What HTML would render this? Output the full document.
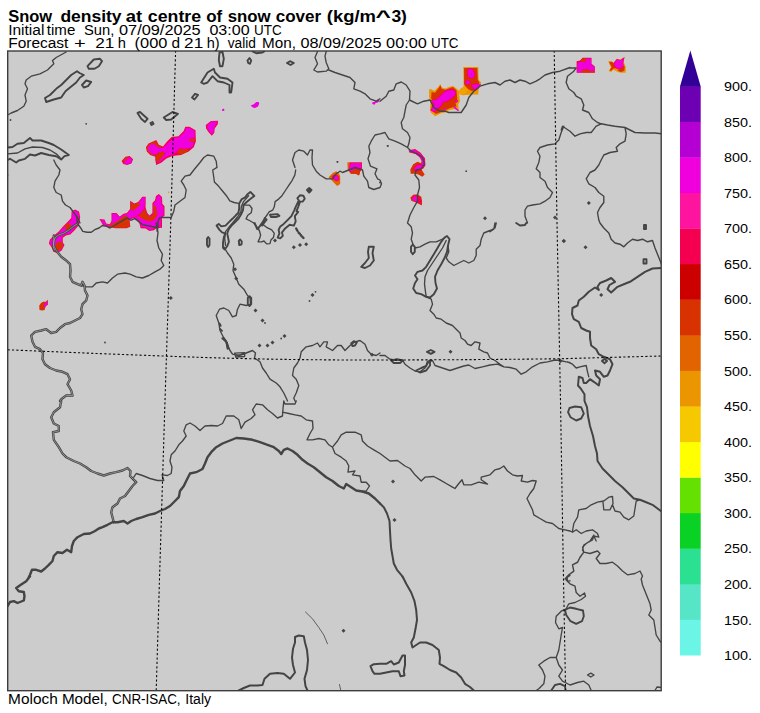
<!DOCTYPE html>
<html><head><meta charset="utf-8"><title>Snow density</title>
<style>html,body{margin:0;padding:0;background:#fff;}body{width:760px;height:713px;overflow:hidden;font-family:"Liberation Sans",sans-serif;}</style></head>
<body>
<svg width="760" height="713" viewBox="0 0 760 713" style="display:block">
<rect width="760" height="713" fill="#fff"/>
<rect x="7.7" y="51" width="653.5" height="639.7" fill="#cccccc"/>
<clipPath id="c"><rect x="7.7" y="51" width="653.5" height="639.7"/></clipPath>
<g clip-path="url(#c)">
<path d="M71.6 211.3 L75.1 209.6 L79.0 211.6 L80.2 216.9 L79.0 224.9 L74.6 230.3 L70.3 234.5 L66.0 235.4 L62.8 237.8 L62.8 242.6 L64.5 245.1 L61.7 250.6 L57.1 253.3 L53.3 251.5 L51.5 247.2 L48.9 243.4 L49.8 239.7 L54.2 235.2 L58.5 231.8 L62.8 226.7 L67.0 222.4 L71.3 218.1Z" fill="#f50050"/>
<path d="M72.2 212.1 L75.1 210.4 L78.1 212.1 L79.3 216.9 L78.1 224.4 L73.9 229.4 L69.6 233.7 L65.3 234.5 L61.9 237.1 L61.9 242.6 L63.6 245.1 L61.0 249.9 L57.1 252.3 L54.0 250.6 L52.3 246.5 L49.9 243.4 L50.6 240.2 L54.9 236.1 L59.2 232.6 L63.4 227.5 L67.7 223.2 L72.0 219.0Z" fill="#f000dc"/>
<path d="M64.8 225.5 L69.1 222.9 L71.6 225.5 L69.9 228.9 L65.7 229.7Z" fill="#d73200"/>
<path d="M56.3 243.4 L59.7 240.9 L63.1 243.4 L62.2 247.7 L58.0 251.1 L54.5 249.4Z" fill="#d73200"/>
<path d="M99.4 219.1 L104.5 219.5 L106.2 223.4 L109.8 224.3 L111.5 220.8 L111.5 213.0 L116.5 213.0 L119.7 216.4 L123.6 213.8 L126.9 213.0 L130.1 208.9 L130.1 200.7 L134.3 203.6 L138.2 201.9 L142.3 196.7 L145.7 196.7 L145.7 204.9 L144.9 209.6 L141.3 214.0 L137.8 216.6 L133.6 218.3 L129.5 219.8 L130.3 226.7 L126.6 228.2 L115.3 228.2 L108.1 226.8 L102.9 225.1Z" fill="#f50050"/>
<path d="M100.4 219.8 L104.1 220.2 L105.9 224.1 L110.1 224.9 L112.2 221.5 L112.2 213.7 L116.1 213.7 L119.5 217.3 L123.8 214.7 L127.2 213.8 L130.8 209.6 L130.8 202.0 L134.1 204.4 L138.4 202.7 L142.6 197.6 L145.0 197.6 L145.0 204.9 L144.2 209.2 L140.8 213.3 L137.3 215.9 L133.2 217.6 L128.8 219.3 L129.5 226.0 L126.4 227.3 L115.3 227.3 L108.4 226.0 L103.5 224.4Z" fill="#f000dc"/>
<path d="M108.4 226.3 L113.6 222.9 L118.7 220.3 L123.8 216.1 L126.4 215.2 L128.9 219.5 L129.8 226.3 L126.4 227.7 L115.3 227.7Z" fill="#d73200"/>
<path d="M130.7 202.4 L134.1 204.1 L138.4 202.4 L140.1 204.9 L135.8 208.4 L132.4 210.9 L130.7 209.2Z" fill="#d73200"/>
<path d="M156.0 195.9 L158.9 194.0 L162.0 196.9 L162.3 203.7 L164.5 206.3 L164.5 215.5 L162.0 218.1 L162.0 227.7 L156.5 228.2 L153.9 230.3 L149.3 231.1 L145.7 228.5 L140.6 228.2 L139.6 223.9 L137.8 220.7 L133.2 217.8 L137.2 215.7 L140.6 213.1 L144.0 208.9 L144.7 205.1 L147.3 213.0 L149.5 215.4 L152.4 213.1 L152.4 202.9 L155.0 200.3Z" fill="#f50050"/>
<path d="M156.7 196.9 L158.9 195.2 L161.1 197.6 L161.3 204.4 L163.5 207.0 L163.5 214.9 L160.9 217.4 L160.9 226.7 L156.1 227.2 L153.6 229.2 L149.6 230.1 L146.4 227.5 L141.3 227.2 L140.6 223.6 L138.9 220.0 L134.6 217.8 L137.8 216.4 L141.3 213.8 L144.7 209.6 L144.9 207.5 L146.6 213.8 L149.5 216.6 L153.2 213.8 L153.4 203.6 L155.8 201.2Z" fill="#f000dc"/>
<path d="M138.4 215.2 L142.6 211.8 L144.7 208.4 L146.9 214.3 L150.3 216.9 L153.8 213.5 L153.2 204.1 L156.3 207.5 L157.2 215.2 L153.8 220.3 L149.5 221.2 L145.2 220.3 L140.9 217.8Z" fill="#d73200"/>
<path d="M145.9 147.3 L148.5 143.4 L153.6 141.3 L156.2 139.9 L158.8 144.7 L163.0 146.4 L167.3 141.3 L171.6 137.0 L178.4 136.2 L183.6 131.1 L185.3 126.8 L189.5 126.8 L195.5 130.2 L195.9 141.3 L193.8 147.3 L188.7 151.6 L181.0 155.0 L172.4 155.9 L166.4 158.4 L161.3 162.7 L156.2 164.9 L155.3 160.1 L155.3 156.7 L150.2 155.0 L146.8 151.6Z" fill="#f50050"/>
<path d="M146.6 147.3 L149.0 143.9 L153.6 142.0 L155.8 141.0 L158.4 145.3 L162.2 147.3 L159.6 149.9 L155.3 155.9 L150.7 154.5 L147.5 151.2Z" fill="#d73200"/>
<path d="M148.0 147.3 L150.2 144.4 L154.5 143.9 L157.9 147.3 L163.0 148.2 L168.2 143.0 L172.4 138.8 L179.3 137.0 L184.4 131.9 L186.1 128.0 L189.5 128.0 L194.7 131.1 L194.7 137.9 L190.4 138.8 L188.7 141.3 L193.8 141.3 L193.0 146.4 L188.7 148.2 L183.6 149.0 L180.1 148.2 L176.7 151.6 L172.4 154.7 L168.2 155.9 L164.7 157.6 L160.5 161.8 L157.0 163.6 L161.3 157.6 L165.6 153.3 L163.0 151.6 L158.8 152.4 L155.3 155.0 L151.1 153.3 L148.5 150.7Z" fill="#f000dc"/>
<path d="M155.8 155.9 L159.6 151.9 L165.1 152.3 L161.7 157.6 L157.9 162.2 L155.8 160.5Z" fill="#d73200"/>
<path d="M176.7 152.4 L180.1 148.5 L183.6 149.4 L189.0 148.5 L187.3 151.6 L181.0 154.7Z" fill="#d73200"/>
<path d="M189.0 139.3 L194.8 138.4 L195.2 141.3 L189.4 141.3Z" fill="#d73200"/>
<path d="M121.6 161.0 L125.4 156.7 L129.7 155.9 L133.1 159.3 L131.4 163.6 L127.1 164.9 L123.3 163.9Z" fill="#f50050"/>
<path d="M122.3 160.8 L125.7 157.2 L129.2 156.5 L127.1 158.8 L124.5 161.8Z" fill="#d73200"/>
<path d="M124.5 161.8 L127.1 158.8 L130.2 157.6 L132.2 159.8 L130.7 163.0 L127.1 164.2 L124.0 163.2Z" fill="#f000dc"/>
<path d="M205.8 125.1 L210.9 121.1 L218.1 120.8 L217.8 124.2 L214.7 128.5 L214.3 132.8 L211.8 135.8 L208.4 131.9 L206.1 128.5Z" fill="#f50050"/>
<path d="M207.2 125.1 L211.3 121.8 L217.4 121.5 L214.3 127.6 L213.7 132.4 L211.8 134.5 L209.2 131.1 L207.5 128.5Z" fill="#f000dc"/>
<path d="M222.2 109.8 L223.6 109.2 L223.9 110.5 L222.6 111.0Z" fill="#f000dc"/>
<path d="M168.0 191.8 L169.2 191.6 L169.4 193.0 L168.2 193.1Z" fill="#eb9600"/>
<path d="M429.1 89.3 L431.6 89.3 L434.2 91.1 L438.5 86.8 L440.2 83.9 L441.9 87.6 L445.3 88.5 L449.6 86.8 L453.0 85.9 L456.4 88.5 L459.0 91.1 L459.9 101.3 L458.2 104.7 L459.0 110.7 L454.7 109.0 L449.6 109.9 L445.3 112.4 L441.1 113.3 L435.1 116.2 L430.8 112.4 L429.9 108.2 L430.8 101.3 L429.1 97.9Z" fill="#eb9600"/>
<path d="M431.6 91.9 L435.1 92.8 L439.0 87.6 L440.4 85.2 L441.9 89.0 L445.8 89.7 L449.9 88.0 L453.0 87.1 L456.4 90.2 L457.3 98.8 L455.6 103.0 L456.4 106.4 L453.0 107.3 L449.6 108.2 L444.8 110.7 L441.1 111.9 L435.9 114.0 L432.5 110.7 L431.6 106.4 L432.5 101.3 L431.1 97.9Z" fill="#d73200"/>
<path d="M431.0 100.1 L436.8 98.8 L439.9 95.5 L443.3 92.1 L447.7 89.3 L453.2 89.3 L456.3 91.7 L455.4 95.8 L451.0 99.4 L447.4 102.0 L444.1 102.0 L441.6 106.1 L437.3 109.7 L434.4 112.4 L430.3 110.6 L432.2 106.4 L434.2 103.9 L431.8 102.5Z" fill="#f50050"/>
<path d="M431.6 100.5 L436.8 99.6 L440.2 96.2 L443.6 92.8 L447.9 90.2 L453.0 90.2 L455.6 91.9 L454.7 95.3 L450.5 98.8 L447.0 101.3 L443.6 101.3 L441.1 105.6 L436.8 109.0 L434.2 111.6 L431.1 110.2 L432.8 106.4 L435.1 103.9 L432.5 102.2Z" fill="#f000dc"/>
<path d="M454.6 101.0 L456.4 99.1 L458.3 101.0 L456.4 102.9Z" fill="#f50050"/>
<path d="M455.1 101.0 L456.4 99.6 L457.8 101.0 L456.4 102.3Z" fill="#f000dc"/>
<path d="M454.4 106.1 L459.4 111.1 L457.3 110.7 L453.5 107.8Z" fill="#f000dc"/>
<path d="M443.3 109.2 L446.4 108.2 L445.0 111.2Z" fill="#f000dc"/>
<path d="M463.3 67.1 L478.3 67.1 L478.7 79.9 L481.3 82.5 L478.7 86.8 L478.3 94.5 L468.4 94.8 L462.4 95.3 L459.0 92.8 L459.9 89.3 L463.6 86.8Z" fill="#eb9600"/>
<path d="M459.0 91.1 L464.1 86.8 L467.6 90.2 L465.0 94.0 L459.9 94.8Z" fill="#f5a000"/>
<path d="M464.1 68.0 L477.3 68.0 L477.8 79.9 L479.5 82.5 L477.8 85.9 L477.0 90.2 L471.8 91.1 L468.4 89.3 L465.9 86.8 L464.1 84.2Z" fill="#d73200"/>
<path d="M466.9 71.4 L468.9 67.8 L473.0 69.0 L475.6 73.9 L474.1 77.9 L470.0 78.9 L467.4 75.8Z" fill="#f50050"/>
<path d="M467.6 71.4 L469.3 68.5 L472.7 69.7 L474.9 73.9 L473.6 77.4 L470.1 78.2 L468.1 75.7Z" fill="#f000dc"/>
<path d="M464.3 81.6 L467.4 79.8 L471.2 81.5 L469.6 84.6 L466.0 84.6Z" fill="#f50050"/>
<path d="M465.0 81.6 L467.6 80.4 L470.5 81.6 L469.3 83.9 L466.4 83.9Z" fill="#f000dc"/>
<path d="M470.8 84.7 L475.3 83.5 L481.1 83.9 L478.2 89.0 L474.2 90.0 L472.2 88.0Z" fill="#f50050"/>
<path d="M471.5 85.1 L475.3 84.2 L480.4 84.2 L477.8 88.5 L474.4 89.3 L472.7 87.6Z" fill="#f000dc"/>
<path d="M328.6 177.2 L332.8 172.9 L336.3 171.2 L338.8 172.9 L340.2 176.3 L340.2 184.0 L337.1 186.1 L334.5 183.2 L331.1 179.7Z" fill="#e16400"/>
<path d="M331.6 176.3 L335.1 173.9 L338.5 176.0 L339.5 180.1 L336.3 181.3 L333.3 179.4Z" fill="#f50050"/>
<path d="M332.7 176.5 L335.1 174.9 L337.6 176.5 L338.5 179.4 L336.3 180.3 L334.0 178.7Z" fill="#f000dc"/>
<path d="M347.4 162.3 L361.9 162.3 L361.9 169.8 L360.2 171.2 L359.0 175.5 L355.9 173.8 L350.8 173.8 L347.7 170.3Z" fill="#e16400"/>
<path d="M349.9 162.6 L361.9 162.6 L361.9 169.8 L360.2 171.2 L359.0 175.1 L355.9 173.4 L351.1 173.4 L348.7 169.8Z" fill="#f50050"/>
<path d="M351.1 163.0 L361.1 163.0 L361.1 169.1 L356.8 167.8 L353.4 170.8 L349.9 171.2 L349.1 167.8Z" fill="#f000dc"/>
<path d="M350.8 171.5 L356.8 168.8 L360.2 171.2 L359.0 175.5 L355.9 173.8 L350.8 173.8Z" fill="#d73200"/>
<path d="M408.6 150.3 L415.1 149.1 L420.6 152.7 L425.0 158.2 L425.4 165.4 L422.8 169.3 L420.2 166.2 L421.6 161.1 L419.6 157.2 L415.4 153.9 L409.3 152.4Z" fill="#f50050"/>
<path d="M409.3 150.8 L414.9 150.0 L420.1 153.4 L424.3 158.5 L424.7 165.0 L422.8 168.1 L421.1 166.1 L422.3 160.9 L420.1 156.6 L415.8 153.2 L409.8 151.9Z" fill="#f000dc"/>
<path d="M410.3 169.5 L413.2 164.3 L417.5 161.8 L421.8 163.5 L420.9 167.8 L422.6 171.2 L424.7 174.6 L422.3 176.7 L418.4 174.6 L414.9 173.8 L410.7 173.8Z" fill="#d73200"/>
<path d="M413.1 168.8 L416.3 164.5 L421.3 164.0 L423.3 166.9 L420.4 170.5 L415.6 171.9Z" fill="#f50050"/>
<path d="M414.1 168.6 L416.8 165.5 L420.8 165.0 L422.3 166.9 L419.9 169.5 L416.0 170.8Z" fill="#f000dc"/>
<path d="M410.3 197.7 L413.2 194.8 L417.5 194.3 L421.3 196.8 L422.1 201.1 L421.8 205.4 L418.4 203.7 L414.9 202.0 L411.5 201.1Z" fill="#d73200"/>
<path d="M411.3 198.0 L414.6 195.3 L417.8 195.8 L420.9 198.2 L421.4 204.7 L418.2 203.0 L414.4 201.6Z" fill="#f50050"/>
<path d="M412.0 198.2 L414.9 196.0 L417.5 196.8 L417.5 201.1 L414.1 201.1Z" fill="#f000dc"/>
<path d="M576.6 61.3 L580.1 60.4 L582.6 57.8 L591.5 57.8 L591.5 63.8 L594.9 66.4 L594.9 72.7 L576.6 72.7Z" fill="#f50050"/>
<path d="M579.7 60.7 L583.0 58.2 L586.1 58.3 L585.4 62.4 L581.8 61.8Z" fill="#d73200"/>
<path d="M577.5 63.0 L581.8 61.6 L585.2 62.4 L586.1 58.7 L591.2 58.7 L591.2 64.7 L594.6 66.9 L594.6 70.3 L590.3 71.0 L587.8 69.3 L583.5 69.3 L580.9 72.4 L577.2 72.4Z" fill="#f000dc"/>
<path d="M581.4 71.0 L584.0 69.6 L587.8 69.6 L590.5 71.3 L594.3 70.7 L594.6 72.5 L581.4 72.5Z" fill="#d73200"/>
<path d="M608.3 61.3 L611.7 61.3 L614.3 63.0 L616.8 58.7 L620.3 59.5 L624.5 57.3 L623.7 62.1 L625.7 66.4 L625.7 72.7 L620.3 72.7 L616.8 71.5 L613.4 69.8 L610.9 72.0 L608.6 71.0 L610.9 67.2 L609.1 63.8Z" fill="#eb9600"/>
<path d="M609.1 61.8 L612.1 62.1 L614.6 63.8 L616.8 68.1 L613.4 68.4 L611.2 70.7 L609.7 70.3 L611.7 66.9 L610.0 63.8Z" fill="#d73200"/>
<path d="M620.3 67.6 L624.7 65.9 L624.4 70.7 L621.1 72.0 L617.7 70.7Z" fill="#d73200"/>
<path d="M614.1 62.1 L616.8 59.0 L620.3 59.9 L624.5 57.1 L623.3 63.0 L623.9 66.6 L621.3 68.8 L618.0 69.6 L615.0 67.8 L613.6 64.7Z" fill="#f50050"/>
<path d="M614.8 62.1 L617.2 59.7 L620.3 60.6 L623.9 58.0 L622.7 63.0 L623.2 66.2 L620.9 67.9 L618.2 68.8 L615.6 67.1 L614.4 64.7Z" fill="#f000dc"/>
<path d="M39.2 305.7 L41.0 303.1 L43.1 301.8 L45.7 301.8 L47.8 299.8 L48.1 304.4 L46.1 306.1 L45.0 308.2 L44.6 310.1 L42.2 310.6 L39.5 310.1Z" fill="#d73200"/>
<path d="M44.0 304.0 L46.1 302.4 L47.5 300.4 L47.8 304.2 L45.7 306.1 L44.4 307.8 L43.8 305.7Z" fill="#f000dc"/>
<path d="M250.7 105.4 L253.7 104.2 L256.3 102.1 L258.8 101.9 L259.2 103.8 L258.0 106.4 L255.0 108.1 L252.8 107.4Z" fill="#f000dc"/>
<path d="M372.1 102.4 L374.8 101.8 L376.5 100.5 L378.2 99.0 L379.5 101.0 L377.8 102.4 L375.7 103.1 L374.4 104.8 L372.4 104.1Z" fill="#f000dc"/>
<path d="M222.0 109.5 L224.0 108.5 L224.5 110.5 L222.5 111.0Z" fill="#f000dc"/>
<path d="M66.2 52.0 L56.2 57.5 L52.5 60.5 L53.8 63.8 L50.0 67.5 L47.5 70.0 L40.0 73.8 L31.2 76.2 L26.2 80.0 L25.0 83.8 L27.5 88.8 L25.0 95.0 L26.2 101.2 L23.8 106.2 L17.5 110.5 L11.2 113.0 L7.5 115.0 M7.5 153.8 L17.5 153.0 L25.0 148.8 L32.5 147.0 L42.5 147.5 L50.0 150.0 L56.2 153.8 L60.0 157.5 M53.8 160.0 L56.2 165.0 L60.0 170.0 L58.8 175.0 L55.0 181.2 L53.8 187.5 L56.2 192.5 L61.2 195.0 L62.5 201.2 L65.5 205.0 L70.0 207.5 L73.8 212.5 L77.5 217.5 L80.0 223.0 M190.0 175.0 L185.0 176.2 L181.2 181.2 L183.8 185.0 L186.2 190.0 L185.0 197.5 L180.0 201.2 L175.0 205.0 L173.8 211.2 L171.2 217.5 L162.5 217.5 M317.5 51.5 L315.0 57.5 L317.5 63.8 L313.8 70.0 L317.5 72.0 L326.2 71.2 L328.8 68.8 L326.2 62.5 L325.0 56.2 L326.2 51.5 M328.8 70.0 L335.0 72.5 L342.5 75.0 L350.0 77.5 L355.0 82.5 L353.8 88.8 L360.0 91.2 L365.0 93.8 L370.0 98.8 L376.2 101.2 L380.0 98.8 M380.0 133.8 L375.0 135.0 L371.2 141.2 L368.8 146.2 L370.0 152.5 L368.0 158.8 L370.5 166.2 L377.0 168.8 L375.0 173.8 L377.5 178.8 L380.0 180.0 L381.5 183.8 L380.0 187.5 M362.5 170.0 L363.8 176.2 L367.5 181.2 L368.8 187.5 L373.8 189.5 L380.0 187.5 M190.0 175.0 L193.8 170.0 L200.0 162.5 L203.8 157.5 L207.5 155.0 L213.8 156.2 L216.2 161.2 L217.0 167.5 M295.0 167.5 L292.5 160.0 L295.0 152.5 L298.8 150.0 L303.8 151.2 L307.5 155.0 L310.0 150.0 L312.5 150.0 L312.0 157.5 L312.5 165.0 L316.2 171.2 L320.0 175.0 L326.2 178.8 L332.5 178.8 L336.2 173.8 L340.0 171.2 L342.5 172.5 L348.8 170.0 L355.0 167.5 L360.0 168.8 L362.5 170.0 M409.5 100.0 L406.2 105.0 L405.0 111.2 L403.8 117.5 L401.2 122.5 L402.5 128.8 L407.5 132.5 L410.0 137.5 L408.8 143.8 L407.5 147.5 M380.0 133.8 L385.0 132.5 L388.8 138.8 L395.0 141.2 L401.2 143.8 L407.5 147.5 L411.2 151.2 L417.5 153.8 L422.5 157.5 L424.5 163.8 L421.2 168.8 L416.2 170.0 L415.0 175.0 L418.8 180.0 L419.5 187.5 L417.5 195.0 L417.5 201.2 L413.8 207.5 L410.0 215.0 L407.5 223.0 M563.8 126.2 L561.2 132.5 L558.8 140.0 L555.0 143.8 L547.5 145.0 L540.0 147.5 L537.5 151.2 L540.0 156.2 L538.8 162.5 L536.2 168.8 L540.0 172.5 L540.0 177.5 L545.0 181.2 L547.5 187.5 L552.5 192.5 L550.0 197.5 L545.0 201.2 L540.0 203.8 L532.5 205.0 L527.5 206.2 L525.0 210.0 L525.0 216.2 L527.5 223.0 M601.2 123.8 L596.2 126.2 L591.2 132.5 L586.2 132.5 L580.0 133.8 L575.0 136.2 L570.0 131.2 L562.5 126.2 L561.2 130.0 M81.2 285.5 L86.2 286.8 L92.5 286.8 L96.2 283.0 L102.5 281.8 L107.5 283.0 L112.5 278.0 L117.5 274.2 L125.0 273.0 L130.0 274.2 L136.2 276.8 L142.5 278.0 L148.8 275.5 L155.0 271.8 L160.0 269.2 L163.8 265.5 L161.2 260.5 L162.5 254.2 L158.8 248.0 L157.0 240.5 L158.0 233.0 L157.0 225.5 L156.2 223.0 M223.8 246.8 L227.5 253.0 L231.2 258.0 L233.8 264.2 L233.0 270.5 L236.2 278.0 L238.8 284.2 L243.8 289.2 L247.5 295.5 L250.0 298.0 L250.5 304.2 L246.2 305.5 L240.0 304.2 L237.5 309.2 L236.2 315.5 L232.5 316.8 L228.8 310.5 L223.8 308.0 L219.5 309.2 L216.2 315.5 L218.8 323.0 L220.0 330.5 L223.8 338.0 L227.5 344.2 L230.0 350.5 L232.5 354.2 L238.8 355.5 L246.2 353.0 L252.5 350.5 L255.5 353.0 L254.5 358.0 L260.0 361.8 L262.5 368.0 L266.2 373.0 L270.0 379.2 L276.2 383.0 L280.0 386.8 L283.8 393.0 L286.2 398.0 L287.5 401.0 M300.0 358.0 L301.2 351.8 L306.2 346.8 L312.5 345.5 L317.5 343.0 L320.0 346.8 L323.8 341.8 L327.5 341.8 L326.2 346.8 L332.5 350.5 L337.5 345.5 L341.2 345.5 L345.0 350.5 L350.0 345.5 L355.0 341.8 L360.0 340.5 L365.0 344.2 L367.5 350.5 L371.2 354.2 L376.2 355.5 L380.0 353.0 M300.0 358.0 L297.5 363.0 L293.8 368.0 L292.5 375.5 L296.2 379.2 L298.8 385.5 L296.2 393.0 L293.8 398.0 L295.0 401.0 M446.2 240.5 L442.5 248.0 L437.5 255.5 L432.5 263.0 L427.5 270.5 L425.0 276.8 L424.5 284.2 L425.5 291.8 L426.2 296.8 M407.5 223.0 L411.2 226.8 L412.5 233.0 L411.2 239.2 L413.0 244.2 M415.0 248.0 L420.0 246.8 L425.0 244.2 L430.0 241.8 L436.2 241.8 L442.5 239.2 L445.5 237.5 M448.0 245.5 L448.8 251.8 L446.2 258.0 L448.8 261.8 L453.8 265.5 L458.8 263.0 L463.8 260.5 L468.8 263.0 L473.8 260.5 L476.2 255.5 L476.2 249.2 L480.0 245.5 L481.2 239.2 L483.8 233.0 L490.0 230.5 L495.0 228.0 L496.2 223.0 M426.2 296.8 L431.2 299.2 L432.5 304.2 L430.0 310.5 L433.8 314.2 L436.2 318.0 L441.2 319.2 L446.2 323.0 L452.5 325.5 L456.2 329.2 L460.0 333.0 L461.2 338.0 L465.0 340.5 L467.5 344.2 L471.2 345.5 L475.0 341.8 L480.0 343.0 L478.8 349.2 L483.8 351.8 L487.5 353.0 L490.0 358.0 L495.0 360.5 L500.0 364.2 L503.8 366.8 M380.0 355.5 L385.0 355.5 L390.0 359.2 L395.0 360.0 L402.5 360.0 L405.0 364.2 L410.0 368.0 L415.0 371.0 L420.0 371.8 L425.0 368.0 L428.8 361.8 L432.5 360.5 L435.0 365.5 L442.5 368.0 L450.0 370.5 L457.5 368.0 L463.8 366.0 L468.8 365.0 L475.0 368.5 L482.5 366.8 L490.0 365.0 L497.5 364.2 L503.8 366.8 L510.0 367.5 L516.2 369.2 L521.2 374.2 L526.2 371.8 L532.5 366.8 L540.0 363.0 L547.5 361.8 L555.0 360.0 L560.0 360.5 L566.2 361.8 L570.0 362.5 M567.5 361.8 L572.5 364.2 L576.2 368.0 L580.0 366.8 L586.2 365.5 L587.5 371.8 L588.8 376.8 M490.0 231.8 L493.8 229.2 L495.0 223.0 M133.8 477.2 L136.2 473.5 L142.5 475.5 L150.0 478.5 L157.5 480.5 L163.8 480.5 L162.0 474.8 L167.5 475.5 L171.2 473.5 L172.0 467.2 L170.0 461.0 L171.2 454.8 L175.0 451.0 L178.8 444.8 L182.5 441.0 L186.2 436.0 L183.8 431.0 L186.2 424.8 L190.0 423.0 M190.0 423.0 L195.0 426.0 L200.0 430.5 L205.0 426.0 L211.2 425.5 L217.5 426.0 L222.5 423.5 L226.2 416.0 L233.8 416.0 L238.8 419.8 L241.2 428.5 L245.0 422.2 L251.2 418.5 L255.0 414.8 L252.5 409.8 L256.2 404.0 L262.5 404.8 L267.5 409.8 L272.5 413.5 L277.5 418.0 L282.5 416.0 L283.0 408.5 L283.8 401.0 M283.8 401.0 L285.0 404.0 L295.0 404.0 L296.2 401.0 M282.5 412.2 L288.8 413.5 L295.0 414.8 L301.2 416.0 L306.2 419.8 L312.5 421.0 L313.0 428.5 L310.0 433.5 L307.0 439.8 L312.5 439.8 L318.8 438.5 L325.0 439.8 L328.8 444.8 L332.5 447.2 M332.5 447.2 L337.5 441.0 L341.2 434.8 L346.2 432.2 L355.0 432.2 L361.2 434.8 L362.5 441.0 L367.5 446.0 L373.8 449.8 L380.0 453.5 M332.5 447.2 L335.0 453.5 L341.2 457.2 L346.2 461.0 L348.8 466.0 L348.0 472.2 L355.0 471.0 L352.5 474.8 L360.0 476.0 L361.2 482.2 L366.2 482.2 L369.5 486.0 L366.2 491.0 L362.5 491.5 M380.0 453.5 L385.0 457.2 L390.0 461.0 L397.5 460.5 L405.0 466.0 L410.0 468.5 L415.0 474.8 L421.2 481.0 L425.0 477.2 L433.8 476.5 L440.0 479.8 L446.2 483.5 L452.5 487.2 L455.0 488.5 L458.8 483.5 L462.0 479.8 L463.8 484.8 L471.2 484.8 L478.8 482.2 L487.5 484.0 L481.2 479.8 L481.2 477.2 L490.0 474.8 L495.0 469.8 L500.0 468.5 L503.8 466.0 L507.5 471.0 L512.5 474.8 L517.5 476.0 L522.5 475.5 L521.2 481.0 L527.5 482.2 L532.5 480.5 L536.2 481.0 L533.8 488.5 L530.0 493.5 L527.0 498.5 L530.0 504.8 L532.5 509.8 L533.8 514.8 L540.0 518.5 L546.2 522.2 L552.5 523.5 L558.8 528.5 L565.0 529.8 L570.0 531.0 M570.0 531.0 L572.5 532.2 L576.2 529.8 L581.2 533.5 L586.2 531.0 L592.5 529.8 L597.5 533.5 L598.8 537.2 L593.8 536.0 L592.5 539.8 L586.2 543.5 L582.5 547.2 L583.8 552.2 L590.0 553.5 L597.5 551.0 L600.0 553.5 L596.2 558.5 L600.0 563.5 L606.2 563.5 L612.5 562.2 L617.5 566.0 L622.5 571.0 L627.5 574.8 L635.0 573.5 L640.0 571.0 L642.5 576.0 L641.2 579.0 M572.5 531.0 L573.8 523.5 L577.5 517.2 L578.8 509.8 L586.2 508.5 L591.2 504.8 L597.5 502.2 L603.8 501.0 L608.8 497.2 L612.5 496.5 L613.0 503.5 L610.0 509.8 L603.8 509.8 L603.0 502.2 M612.5 504.8 L615.0 511.0 L620.0 512.2 L623.8 517.2 L628.8 519.8 L633.8 516.0 L635.0 508.5 L636.2 501.0 L640.0 499.8 M583.8 552.2 L580.0 557.2 L577.5 562.2 L572.5 564.8 L573.8 571.0 L568.8 574.8 L565.0 579.0 M593.8 536.0 L596.2 541.0 M570.0 575.5 L567.0 577.5 L567.5 581.2 L570.0 580.8 M593.8 535.0 L590.0 541.2 L583.8 545.0 L582.5 550.0 L583.8 552.2 L580.0 557.5 L577.5 562.5 L572.5 565.0 L573.8 571.2 L568.8 575.0 L566.2 580.0 L570.0 583.8 L575.0 586.2 L576.2 592.5 L580.0 596.2 L584.5 593.0 L585.5 596.2 L581.2 599.5 L575.0 602.5 L568.8 603.8 L566.2 608.8 L561.2 611.2 L556.2 616.2 L555.5 622.5 L558.8 628.8 L562.5 627.5 L561.2 635.0 L560.0 642.5 L558.8 650.0 L556.2 657.5 L550.0 657.5 L543.8 661.2 L538.8 665.0 L542.5 670.0 L545.0 676.2 L543.8 683.8 L538.8 688.8 L536.2 690.5 M556.2 657.5 L558.8 665.0 L562.5 670.0 L558.8 676.2 L562.5 681.2 L570.0 685.0 L577.5 682.5 L583.8 681.2 L588.8 685.0 L591.2 690.5 M641.2 579.0 L642.5 585.0 L645.0 591.2 L647.5 597.5 L650.0 603.8 L651.2 610.0 L648.8 615.0 L653.8 620.0 L655.0 627.5 L656.2 635.0 L660.0 641.2 L661.5 642.5 M587.5 675.0 L590.8 673.2 L594.0 675.0 L590.8 677.0Z M655.0 690.5 L657.0 687.0 L661.5 687.5 M248.6 195.7 L243.5 201.6 L241.3 206.8 L240.9 211.9 L237.5 217.0 L233.2 222.2 L228.9 227.3 L225.5 231.6 L224.7 238.4 L225.5 245.3 M217.0 167.4 L212.7 170.0 L213.6 176.0 L214.4 182.0 L218.7 186.3 L222.1 190.5 L226.4 195.7 L229.8 200.8 L234.1 202.5 L238.4 203.4 M243.5 205.1 L249.5 205.1 L252.0 208.5 L251.2 212.8 L247.8 215.3 L246.1 218.8 L249.5 220.5 L253.8 223.0 L256.3 226.4 L258.9 229.0 M295.7 170.0 L294.8 175.1 L292.2 180.3 L288.8 185.4 L285.4 190.5 L282.0 195.7 L278.6 199.1 L275.1 201.6 L274.3 206.8 L272.6 210.2 L269.1 211.9 L267.4 214.5 L264.9 217.9 M263.2 224.7 L266.6 227.3 L271.7 229.9 L274.3 233.3 L273.4 237.6 L270.9 240.1 L270.0 243.6 L266.6 243.9 L264.0 241.0 L261.4 241.8 L258.0 241.8 L259.7 238.4 L260.6 235.0 L259.4 230.7 L258.0 229.0 M158.0 226.3 L157.2 231.4 L156.3 222.9 M234.7 353.1 L244.9 352.7 L244.6 356.5 L235.7 357.0Z" fill="none" stroke="#444444" stroke-width="1.35" stroke-linejoin="round" stroke-linecap="round"/>
<path d="M305.5 612.0 L312.5 618.8 L318.8 627.5 L323.8 635.0 L327.5 643.8 M339.5 684.5 L340.8 690.5 M236.1 355.0 L244.3 354.6" fill="none" stroke="#444444" stroke-width="0.80" stroke-linejoin="round" stroke-linecap="round"/>
<path d="M380.0 101.2 L386.2 96.2 L388.8 91.2 L393.8 90.0 L396.2 83.8 L401.2 82.0 L406.2 85.0 L410.0 91.2 L409.5 100.0 L417.5 103.8 L423.8 101.2 L430.0 100.0 L433.8 107.5 L440.0 111.2 L445.0 111.2 L448.8 112.5 L455.0 112.5 L461.2 112.5 L466.2 105.0 L468.8 97.5 L473.8 91.2 L480.0 86.2 L487.5 83.8 L495.0 82.5 L500.0 85.0 L505.0 81.2 L510.0 80.0 L515.0 82.5 L520.0 80.0 L525.0 81.2 L530.0 83.8 L536.2 81.2 L540.0 78.8 L545.0 75.0 L552.5 72.5 L560.0 71.2 L570.0 67.5 M570.0 68.0 L576.2 68.0 L573.8 71.2 L567.5 76.2 L566.2 82.5 L568.8 88.8 L573.8 92.5 L576.2 96.2 L581.2 98.8 L583.8 105.0 L582.5 110.0 L588.8 112.5 L592.5 118.8 L597.5 122.5 L601.2 123.8 L607.5 125.0 L615.0 126.2 L625.0 127.5 L630.0 130.0 L635.0 132.5 L645.0 133.0 L655.0 133.0 L661.5 133.8 M625.0 127.5 L626.2 133.8 L625.0 141.2 L620.0 143.8 L616.2 147.5 L617.5 151.2 L610.0 152.5 L603.8 155.0 L601.2 160.0 L598.8 165.0 L595.0 170.0 L590.0 172.5 L586.2 178.8 L588.8 183.8 L595.0 187.5 L598.8 192.5 L603.8 196.2 L603.8 202.5 L600.0 207.5 L597.5 212.5 L598.8 220.0 L600.0 223.0 M600.0 223.0 L603.8 228.0 L608.8 233.0 L611.2 239.2 L615.0 243.0 L620.0 244.2 L623.8 246.8 L627.5 243.0 L632.5 239.2 L637.5 240.5 L642.5 239.2 L647.5 241.8 L652.5 240.5 L655.0 248.0 L657.5 254.2 L660.0 260.5 L661.5 264.2 M76.8 217.8 L77.6 223.8 L80.2 227.2 L82.8 231.4 L87.0 232.3 L91.3 232.3 L94.7 229.7 L99.0 228.0 L102.4 225.5 L106.7 226.3 L110.1 228.0 L114.4 225.5 L118.7 222.9 L123.0 220.3 L127.2 217.8 L130.7 220.3 L134.9 218.6 L139.2 222.0 L142.6 224.6 L146.9 225.5 L151.2 226.3 L154.6 227.2 L158.0 226.3 L158.0 221.2 L159.7 217.8 L162.5 217.4" fill="none" stroke="#444444" stroke-width="1.40" stroke-linejoin="round" stroke-linecap="round"/>
<path d="M53.8 235.5 L53.8 245.5 L56.2 250.5 L61.2 256.8 L66.2 260.5 L70.0 264.2 L70.5 270.5 L70.0 276.8 L72.5 281.8 L77.5 284.2 L81.2 285.5 L82.5 281.8 L84.5 285.5 L85.0 290.5 L87.5 295.5 L86.2 300.5 L82.5 304.2 L81.2 309.2 L82.5 314.2 L80.0 318.0 L75.0 320.5 L70.0 323.0 L65.0 324.2 L60.0 328.0 L56.2 331.8 L51.2 333.0 L46.2 329.2 L41.2 330.5 L35.0 331.8 L31.2 335.5 L32.5 341.8 L35.0 346.8 L40.0 349.2 L43.0 353.0 L42.5 359.2 L45.0 364.2 L50.0 368.0 L56.2 370.5 L62.5 371.8 L67.5 374.2 L70.0 379.2 L67.5 384.2 L71.2 390.5 L72.5 395.5 L66.2 395.5 L61.2 399.2 L60.0 401.0 M61.2 401.0 L60.0 407.2 L53.8 412.2 L51.2 417.2 L53.8 423.5 L58.8 426.0 L58.8 431.0 L53.0 432.2 L53.8 439.8 L58.8 447.2 L62.5 453.5 L66.2 457.2 L73.8 461.0 L80.0 463.5 L86.2 467.2 L91.2 471.0 L97.5 473.5 L103.8 475.5 L110.0 473.5 L116.2 472.2 L122.5 470.5 L127.5 468.0 L130.5 471.0 L130.0 476.0 L133.8 479.8 L136.2 482.2 L132.5 486.0 L128.8 491.0 L125.0 496.0 L120.0 498.5 L117.5 503.5 L112.5 507.2 L111.2 512.2 L112.5 517.2 L113.8 522.2 M77.6 223.8 L73.4 226.3 L69.1 229.7 L63.9 233.2 L58.8 234.9 L55.4 237.4 L53.7 241.7 L53.3 246.8 L54.5 250.3" fill="none" stroke="#444444" stroke-width="2.40" stroke-linejoin="round" stroke-linecap="round"/>
<path d="M53.8 235.5 L53.8 245.5 L56.2 250.5 L61.2 256.8 L66.2 260.5 L70.0 264.2 L70.5 270.5 L70.0 276.8 L72.5 281.8 L77.5 284.2 L81.2 285.5 L82.5 281.8 L84.5 285.5 L85.0 290.5 L87.5 295.5 L86.2 300.5 L82.5 304.2 L81.2 309.2 L82.5 314.2 L80.0 318.0 L75.0 320.5 L70.0 323.0 L65.0 324.2 L60.0 328.0 L56.2 331.8 L51.2 333.0 L46.2 329.2 L41.2 330.5 L35.0 331.8 L31.2 335.5 L32.5 341.8 L35.0 346.8 L40.0 349.2 L43.0 353.0 L42.5 359.2 L45.0 364.2 L50.0 368.0 L56.2 370.5 L62.5 371.8 L67.5 374.2 L70.0 379.2 L67.5 384.2 L71.2 390.5 L72.5 395.5 L66.2 395.5 L61.2 399.2 L60.0 401.0 M61.2 401.0 L60.0 407.2 L53.8 412.2 L51.2 417.2 L53.8 423.5 L58.8 426.0 L58.8 431.0 L53.0 432.2 L53.8 439.8 L58.8 447.2 L62.5 453.5 L66.2 457.2 L73.8 461.0 L80.0 463.5 L86.2 467.2 L91.2 471.0 L97.5 473.5 L103.8 475.5 L110.0 473.5 L116.2 472.2 L122.5 470.5 L127.5 468.0 L130.5 471.0 L130.0 476.0 L133.8 479.8 L136.2 482.2 L132.5 486.0 L128.8 491.0 L125.0 496.0 L120.0 498.5 L117.5 503.5 L112.5 507.2 L111.2 512.2 L112.5 517.2 L113.8 522.2 M77.6 223.8 L73.4 226.3 L69.1 229.7 L63.9 233.2 L58.8 234.9 L55.4 237.4 L53.7 241.7 L53.3 246.8 L54.5 250.3" fill="none" stroke="#bdbdbd" stroke-width="0.6" stroke-linejoin="round"/>
<path d="M45.0 98.0 L50.0 95.0 L56.2 88.8 L61.2 85.0 L66.2 80.0 L71.2 75.0 L77.0 71.2 L79.5 73.0 L83.8 75.0 L80.0 77.5 L76.2 82.5 L70.0 87.5 L65.5 91.2 L61.2 97.5 L53.8 99.5 L46.2 102.0Z M87.5 66.2 L93.8 59.5 L100.0 58.8 L102.0 61.2 L98.8 66.2 L94.5 68.8 L88.8 68.8Z M82.0 85.0 L86.2 80.5 L91.2 82.0 L88.0 86.2 L83.8 87.5Z M137.5 113.0 L140.0 112.0 L147.5 118.8 L145.0 122.0 L141.2 118.8Z M150.5 123.0 L152.5 122.0 L153.5 124.0 L151.5 125.0Z M163.8 117.5 L172.5 112.0 L178.0 113.8 L171.2 119.5 L166.2 120.0Z M7.5 147.5 L12.5 147.0 L17.5 143.8 L23.8 143.0 L30.0 138.0 L32.5 140.5 L41.2 140.5 L48.8 143.0 L53.8 145.0 L61.2 149.5 L68.8 155.0 L64.5 156.2 L61.2 159.5 L56.2 156.2 L48.8 155.0 L41.2 153.0 L35.0 155.5 L30.0 154.5 L25.0 158.8 L18.8 160.5 L16.2 162.5 L10.0 158.8 L7.5 160.0 M201.2 82.5 L207.5 72.5 L213.8 68.8 L215.0 72.5 L220.0 77.5 L227.5 78.8 L232.5 82.5 L231.2 92.5 L229.5 92.5 L229.5 85.0 L223.8 82.5 L217.5 81.2 L212.5 76.2 L207.5 82.5 L203.8 83.8Z M219.5 52.5 L222.5 52.0 L223.8 58.8 L222.5 66.2 L220.0 66.2 L218.8 60.0Z M247.5 60.5 L249.5 58.0 L251.2 60.5 L250.0 63.8 L248.2 63.0Z M287.0 63.0 L290.0 61.2 L293.8 63.0 L290.5 65.0Z M252.5 51.5 L256.2 53.2 L262.5 52.5 L264.2 51.5 M192.0 97.5 L195.0 93.8 L198.0 95.0 L194.5 99.5Z M307.0 190.0 L309.2 188.0 L311.5 190.0 L309.2 192.5Z M207.0 238.5 L208.2 237.0 L209.5 238.5 L209.5 245.0 L208.2 247.0 L207.0 245.0Z M238.8 241.0 L240.2 239.5 L241.8 241.5 L241.5 244.5 L239.2 245.0Z M247.8 298.0 L249.5 296.2 L251.2 298.0 L251.2 304.2 L249.5 306.0 L247.8 304.2Z M368.8 246.8 L373.8 246.8 L372.5 253.0 L373.8 260.5 L370.0 265.5 L365.0 268.0 L361.2 266.8 L365.0 263.0 L368.8 258.0 L368.0 251.8Z M223.8 338.0 L226.2 341.8 L228.0 348.0 M351.2 343.5 L353.8 341.2 L356.8 342.5 L355.0 345.5 L352.5 346.0Z M447.0 236.0 L449.5 239.2 L448.0 245.5 L447.0 251.8 L444.5 258.0 L441.2 264.2 L437.5 270.5 L435.0 276.8 L435.5 283.0 L437.0 288.5 L433.8 294.2 L430.0 297.5 L426.2 296.8 L421.2 294.2 L416.2 293.0 L413.2 288.5 L415.0 283.0 L417.5 279.2 L415.0 275.5 L417.5 271.8 L422.5 270.5 L426.2 266.8 L430.0 260.5 L433.8 254.2 L437.5 248.0 L441.2 241.8 L444.5 237.5Z M411.0 246.8 L412.8 244.5 L414.8 246.8 L414.8 251.8 L412.8 254.2 L411.0 251.8Z M427.0 351.8 L430.8 350.0 L434.5 351.8 L430.8 353.8Z M391.2 360.5 L397.0 359.2 L403.0 360.5 L400.0 363.0 L393.8 363.0Z M416.2 370.5 L421.2 368.0 L426.2 366.0 L427.5 361.8 L430.0 360.5 L430.0 365.5 L426.2 370.5 L420.0 372.5Z M516.2 223.0 L520.0 225.5 L525.0 225.0 L526.2 223.0 M602.0 361.0 L604.5 358.8 L607.0 361.0 L604.5 363.2Z M644.0 225.0 L646.0 225.0 L646.0 229.0 L644.0 229.0Z M643.5 259.2 L646.5 259.2 L646.5 263.5 L643.5 263.5Z M569.5 408.0 L575.0 406.5 L581.2 407.2 L583.8 413.5 L581.2 418.5 L576.2 420.5 L570.5 417.2 L568.0 412.2Z M565.0 610.0 L570.0 607.5 L576.2 608.8 L583.0 610.5 L583.8 616.2 L582.0 621.2 L576.2 623.8 L570.5 621.2 L566.2 615.0Z M551.2 690.5 L555.0 685.0 L560.0 683.8 L565.0 686.2 L565.5 690.5 M250.3 191.9 L254.3 196.0 L250.3 199.1 L246.1 202.5 L243.5 205.1 L243.0 210.2 L240.9 214.8 L238.4 218.8 L234.9 222.2 L231.5 225.6 L228.9 229.0 L227.2 233.3 L228.1 237.6 L228.9 241.8 L227.2 246.1 L224.7 249.5 L223.0 247.8 L223.0 242.7 L223.8 237.6 L225.2 233.3 L222.1 232.4 L219.5 229.9 L216.6 225.6 L218.7 223.9 L221.3 226.4 L225.5 225.6 L228.9 222.2 L232.4 218.8 L235.8 215.3 L238.4 212.8 L239.2 208.5 L239.2 203.4 L241.8 199.1 L245.2 197.4 L247.8 193.9Z M254.6 223.0 L257.2 229.0 L259.7 226.4 L263.2 221.3 L264.9 217.9 L266.6 219.6 L264.0 223.0 L262.3 225.6 M270.0 214.8 L277.7 214.1 L279.4 215.8 L276.0 217.0 L270.9 217.0Z M297.4 198.2 L299.9 195.3 L303.4 195.7 L304.7 198.7 L302.8 201.6 L299.4 201.6Z M298.2 201.6 L295.7 206.8 L293.9 211.1 L291.4 216.2 L288.0 219.6 L283.7 223.9 L280.3 226.4 L278.6 229.9 L279.4 233.3 L277.7 237.6 L280.3 238.4 L282.8 235.9 L282.0 232.4 L285.4 228.2 L289.7 224.7 L293.9 225.6 L295.7 221.3 L294.8 216.2 L298.2 211.9 L296.5 211.1 L298.2 206.8 L299.9 202.2Z M219.5 323.5 L220.7 325.7 M220.3 329.1 L222.0 330.8" fill="none" stroke="#444444" stroke-width="1.90" stroke-linejoin="round" stroke-linecap="round"/>
<path d="M661.5 268.0 L652.5 268.5 L645.0 271.8 L637.5 276.8 L630.0 281.8 L623.8 284.2 L617.5 286.8 L611.2 292.5 L607.5 289.2 L609.5 285.0 L615.0 281.8 L611.2 278.0 L606.2 280.5 L600.0 283.0 L597.5 286.8 L598.8 290.0 L595.0 287.5 L588.8 291.8 L583.8 296.8 L578.8 300.5 L577.5 305.5 L572.5 308.0 L572.0 314.2 L573.8 319.2 L578.8 321.8 L581.2 328.0 L586.2 330.5 L590.0 331.8 L590.0 338.0 L591.2 345.5 L596.2 349.2 L598.8 354.2 L603.8 356.8 L610.0 359.2 L612.5 364.2 L610.0 370.5 L607.5 375.5 L603.8 376.8 L600.0 371.8 L595.0 370.5 L596.2 375.5 L600.0 379.2 L598.8 385.5 L593.8 381.8 L590.0 379.2 L586.2 383.0 L583.8 383.0 L582.5 378.0 L578.8 376.8 L578.0 385.5 L581.2 389.2 L584.5 394.2 L584.5 401.0 M380.0 503.5 L383.8 507.2 L387.0 513.5 L389.5 521.0 L390.0 531.0 L390.5 539.8 L391.2 548.5 L392.5 556.0 L393.8 563.5 L397.0 569.8 L401.2 574.8 L403.8 579.0 M584.5 401.0 L587.0 407.2 L588.0 416.0 L590.0 426.0 L593.0 436.0 L595.0 446.0 L597.0 453.5 L597.5 461.0 L602.5 468.5 L608.8 474.8 L615.0 481.0 L622.5 487.2 L628.8 493.5 L633.8 498.5 L640.0 499.8 L646.2 502.2 L652.5 504.8 L657.5 508.5 L661.5 511.5 M238.8 690.5 L243.8 688.0 L250.0 685.5 L257.5 685.5 L262.5 685.0 L264.5 678.8 L270.0 673.8 L277.5 673.0 L283.8 673.8 L290.0 678.8 L295.0 672.5 L293.0 665.0 L292.0 657.5 L293.0 648.8 L295.0 642.5 L295.0 637.0 L298.8 635.5 L303.8 636.2 L305.0 642.5 L307.0 650.0 L308.0 660.0 L307.0 670.0 L304.5 678.8 L305.5 686.2 L307.5 690.5 M402.5 576.2 L406.2 583.8 L411.2 592.5 L414.5 601.2 L416.2 610.0 L417.0 620.0 L415.5 628.8 L413.8 637.5 L411.2 642.5 L412.5 647.5 L416.2 645.0 L420.0 642.5 L426.2 642.5 L432.5 645.0 L438.8 650.0 L440.0 657.5 L439.5 663.8 L443.8 666.2 L450.0 670.0 L456.2 672.5 L461.2 677.5 L465.0 683.8 L470.0 687.0 L473.8 690.5 M380.0 663.8 L386.2 663.8 L391.2 661.2 L393.8 664.5 L398.8 662.5 L402.5 655.5 L405.0 655.5 L405.0 665.0 L403.8 671.2 L404.5 675.5 L400.5 676.2 L398.8 671.2 L392.5 671.2 L386.2 672.5 L380.0 673.8 M380.0 663.8 L373.8 664.2 L370.5 666.2 L372.5 671.2 L374.5 673.8 L380.0 673.8" fill="none" stroke="#444444" stroke-width="2.00" stroke-linejoin="round" stroke-linecap="round"/>
<path d="M190.0 473.5 L186.2 481.0 L183.8 486.0 L180.0 491.0 L178.8 497.2 L175.0 501.0 L170.0 506.0 L165.0 509.0 L160.0 511.0 L155.0 513.5 L148.8 514.8 L142.5 517.2 L136.2 519.0 L131.2 521.0 L127.5 523.5 L123.8 521.0 L117.5 522.2 L112.5 522.2 L107.5 524.8 L102.5 527.2 L98.8 528.5 L95.0 531.0 L90.0 533.5 L83.8 534.0 L77.5 537.2 L73.8 541.0 L72.0 546.0 L71.2 552.2 L67.0 549.8 L62.5 553.0 L57.5 552.2 L53.8 556.0 L52.5 561.0 L48.8 564.8 L45.0 568.5 L41.2 571.5 L36.2 569.8 L32.0 569.8 L30.0 574.8 L28.0 579.0 M190.0 473.5 L196.2 472.2 L202.5 469.0 L205.0 463.5 L207.5 457.2 L211.2 452.2 L216.2 447.2 L222.5 443.5 L230.0 440.5 L236.2 438.0 L243.8 438.5 L252.5 439.8 L260.0 442.2 L267.5 444.8 L273.8 447.2 L278.8 451.0 L281.2 454.0 L283.8 449.8 L287.5 448.5 L292.5 451.0 L297.5 454.8 L302.5 459.8 L307.5 463.5 L313.8 467.2 L320.0 472.2 L326.2 477.2 L332.5 481.0 L338.8 486.0 L343.8 488.5 L346.2 484.0 L351.2 487.2 L356.2 490.5 L362.5 491.5 L368.8 493.5 L375.0 498.5 L380.0 503.5 M30.0 576.2 L26.2 581.2 L21.2 584.5 L16.2 588.0 L18.8 591.2 L23.8 592.0 L24.5 596.2 L23.8 600.5 L17.5 603.0 L13.8 601.2 L10.0 602.0 L7.5 606.2 M296.2 228.5 L297.4 230.7 M298.6 232.6 L299.6 233.6 M300.8 235.0 L301.5 235.9 M302.7 237.2 L303.4 237.9 M222.7 338.4 L225.8 341.1 M226.8 342.8 L227.8 348.6" fill="none" stroke="#444444" stroke-width="2.40" stroke-linejoin="round" stroke-linecap="round"/>
<circle cx="10.5" cy="120.0" r="0.9" fill="#444444"/>
<circle cx="86.2" cy="123.8" r="0.9" fill="#444444"/>
<circle cx="7.5" cy="175.0" r="0.9" fill="#444444"/>
<circle cx="337.5" cy="161.8" r="0.9" fill="#444444"/>
<circle cx="387.5" cy="145.8" r="0.9" fill="#444444"/>
<circle cx="466.2" cy="171.2" r="0.9" fill="#444444"/>
<path d="M483.0 218.2L485.0 216.2L487.0 218.2L485.0 220.2Z" fill="#444444"/>
<circle cx="380.0" cy="182.5" r="0.9" fill="#444444"/>
<path d="M553.0 217.5L555.0 215.5L557.0 217.5L555.0 219.5Z" fill="#444444"/>
<path d="M586.8 203.0L588.8 201.0L590.8 203.0L588.8 205.0Z" fill="#444444"/>
<path d="M168.8 298.0L170.8 296.0L172.8 298.0L170.8 300.0Z" fill="#444444"/>
<circle cx="105.0" cy="342.5" r="0.9" fill="#444444"/>
<path d="M273.0 240.5L275.0 238.5L277.0 240.5L275.0 242.5Z" fill="#444444"/>
<path d="M291.8 247.2L293.8 245.2L295.8 247.2L293.8 249.2Z" fill="#444444"/>
<path d="M298.0 245.0L300.0 243.0L302.0 245.0L300.0 247.0Z" fill="#444444"/>
<path d="M304.2 244.2L306.2 242.2L308.2 244.2L306.2 246.2Z" fill="#444444"/>
<path d="M233.0 269.2L235.0 267.2L237.0 269.2L235.0 271.2Z" fill="#444444"/>
<path d="M234.2 278.5L236.2 276.5L238.2 278.5L236.2 280.5Z" fill="#444444"/>
<path d="M253.5 310.5L255.5 308.5L257.5 310.5L255.5 312.5Z" fill="#444444"/>
<path d="M260.5 320.5L262.5 318.5L264.5 320.5L262.5 322.5Z" fill="#444444"/>
<path d="M257.5 345.5L259.5 343.5L261.5 345.5L259.5 347.5Z" fill="#444444"/>
<path d="M265.5 345.5L267.5 343.5L269.5 345.5L267.5 347.5Z" fill="#444444"/>
<path d="M270.5 342.5L272.5 340.5L274.5 342.5L272.5 344.5Z" fill="#444444"/>
<path d="M370.0 354.8L372.0 352.8L374.0 354.8L372.0 356.8Z" fill="#444444"/>
<path d="M282.5 336.0L284.5 334.0L286.5 336.0L284.5 338.0Z" fill="#444444"/>
<path d="M310.5 295.0L312.5 293.0L314.5 295.0L312.5 297.0Z" fill="#444444"/>
<circle cx="265.0" cy="323.0" r="0.9" fill="#444444"/>
<circle cx="281.2" cy="338.5" r="0.9" fill="#444444"/>
<circle cx="309.5" cy="301.0" r="0.9" fill="#444444"/>
<circle cx="315.5" cy="291.8" r="0.9" fill="#444444"/>
<path d="M448.5 351.8L450.5 349.8L452.5 351.8L450.5 353.8Z" fill="#444444"/>
<path d="M561.8 241.0L563.8 239.0L565.8 241.0L563.8 243.0Z" fill="#444444"/>
<path d="M558.5 361.0L560.5 359.0L562.5 361.0L560.5 363.0Z" fill="#444444"/>
<path d="M561.8 241.0L563.8 239.0L565.8 241.0L563.8 243.0Z" fill="#444444"/>
<path d="M583.5 247.2L585.5 245.2L587.5 247.2L585.5 249.2Z" fill="#444444"/>
<path d="M599.2 295.0L601.2 293.0L603.2 295.0L601.2 297.0Z" fill="#444444"/>
<path d="M391.0 481.5L393.0 479.5L395.0 481.5L393.0 483.5Z" fill="#444444"/>
<path d="M392.5 520.0L394.5 518.0L396.5 520.0L394.5 522.0Z" fill="#444444"/>
<path d="M341.5 630.8L343.5 628.8L345.5 630.8L343.5 632.8Z" fill="#444444"/>
<path d="M307.3 190.5L309.3 188.5L311.3 190.5L309.3 192.5Z" fill="#444444"/>
<circle cx="337.4" cy="161.8" r="0.9" fill="#444444"/>
<circle cx="387.9" cy="145.9" r="0.9" fill="#444444"/>
<g fill="none" stroke="#0a0a0a" stroke-width="1.1" stroke-dasharray="2.2 2.2">
<path d="M175.6 50.5 L170.75 223 L165 401 L159.5 579 L156.2 691"/>
<path d="M554.2 50.5 L557 223 L560.5 401 L563.5 579 L565.6 691"/>
<path d="M7.5 349.75 Q100 353.8 190 357 T380 360 T560 358.75 L661.5 356"/>
</g>
</g>
<rect x="7.7" y="51" width="653.5" height="639.7" fill="none" stroke="#3c3c3c" stroke-width="1.4"/>
<rect x="680" y="619.63" width="20.7" height="35.87" fill="#6af5e6"/>
<rect x="680" y="584.06" width="20.7" height="35.87" fill="#57e5c8"/>
<rect x="680" y="548.49" width="20.7" height="35.87" fill="#2be090"/>
<rect x="680" y="512.93" width="20.7" height="35.87" fill="#0ad224"/>
<rect x="680" y="477.36" width="20.7" height="35.87" fill="#64e100"/>
<rect x="680" y="441.79" width="20.7" height="35.87" fill="#ffff00"/>
<rect x="680" y="406.22" width="20.7" height="35.87" fill="#f5c800"/>
<rect x="680" y="370.65" width="20.7" height="35.87" fill="#eb9600"/>
<rect x="680" y="335.08" width="20.7" height="35.87" fill="#e16400"/>
<rect x="680" y="299.51" width="20.7" height="35.87" fill="#d73200"/>
<rect x="680" y="263.94" width="20.7" height="35.87" fill="#cd0000"/>
<rect x="680" y="228.37" width="20.7" height="35.87" fill="#f50050"/>
<rect x="680" y="192.81" width="20.7" height="35.87" fill="#ff14a0"/>
<rect x="680" y="157.24" width="20.7" height="35.87" fill="#f000dc"/>
<rect x="680" y="121.67" width="20.7" height="35.87" fill="#b400d2"/>
<rect x="680" y="86.10" width="20.7" height="35.87" fill="#6e00b4"/>
<path d="M680 86.6 L690.35 50.5 L700.7 86.6 Z" fill="#320096"/>
<g font-family="Liberation Sans, sans-serif" font-size="12.7" fill="#000">
<text x="724" y="660.1" textLength="28" lengthAdjust="spacingAndGlyphs">100.</text>
<text x="724" y="624.5" textLength="28" lengthAdjust="spacingAndGlyphs">150.</text>
<text x="724" y="589.0" textLength="28" lengthAdjust="spacingAndGlyphs">200.</text>
<text x="724" y="553.4" textLength="28" lengthAdjust="spacingAndGlyphs">250.</text>
<text x="724" y="517.8" textLength="28" lengthAdjust="spacingAndGlyphs">300.</text>
<text x="724" y="482.3" textLength="28" lengthAdjust="spacingAndGlyphs">350.</text>
<text x="724" y="446.7" textLength="28" lengthAdjust="spacingAndGlyphs">400.</text>
<text x="724" y="411.1" textLength="28" lengthAdjust="spacingAndGlyphs">450.</text>
<text x="724" y="375.6" textLength="28" lengthAdjust="spacingAndGlyphs">500.</text>
<text x="724" y="340.0" textLength="28" lengthAdjust="spacingAndGlyphs">550.</text>
<text x="724" y="304.4" textLength="28" lengthAdjust="spacingAndGlyphs">600.</text>
<text x="724" y="268.8" textLength="28" lengthAdjust="spacingAndGlyphs">650.</text>
<text x="724" y="233.3" textLength="28" lengthAdjust="spacingAndGlyphs">700.</text>
<text x="724" y="197.7" textLength="28" lengthAdjust="spacingAndGlyphs">750.</text>
<text x="724" y="162.1" textLength="28" lengthAdjust="spacingAndGlyphs">800.</text>
<text x="724" y="126.6" textLength="28" lengthAdjust="spacingAndGlyphs">850.</text>
<text x="724" y="91.0" textLength="28" lengthAdjust="spacingAndGlyphs">900.</text>
</g>
<g font-family="Liberation Sans, sans-serif" fill="#000">
<text x="8.2" y="22.4" font-size="16.2" font-weight="bold" textLength="44.0" lengthAdjust="spacingAndGlyphs">Snow</text>
<text x="60.4" y="22.4" font-size="16.2" font-weight="bold" textLength="61.2" lengthAdjust="spacingAndGlyphs">density</text>
<text x="125.7" y="22.4" font-size="16.2" font-weight="bold" textLength="16.4" lengthAdjust="spacingAndGlyphs">at</text>
<text x="147.8" y="22.4" font-size="16.2" font-weight="bold" textLength="53.3" lengthAdjust="spacingAndGlyphs">centre</text>
<text x="206.2" y="22.4" font-size="16.2" font-weight="bold" textLength="16.0" lengthAdjust="spacingAndGlyphs">of</text>
<text x="227.7" y="22.4" font-size="16.2" font-weight="bold" textLength="42.9" lengthAdjust="spacingAndGlyphs">snow</text>
<text x="275.7" y="22.4" font-size="16.2" font-weight="bold" textLength="45.5" lengthAdjust="spacingAndGlyphs">cover</text>
<text x="326.8" y="22.4" font-size="16.2" font-weight="bold" textLength="49.2" lengthAdjust="spacingAndGlyphs">(kg/m</text>
<text x="375.6" y="22.4" font-size="16.2" font-weight="bold" textLength="15.5" lengthAdjust="spacingAndGlyphs">^</text>
<text x="391.4" y="22.4" font-size="16.2" font-weight="bold" textLength="15.5" lengthAdjust="spacingAndGlyphs">3)</text>
<text x="8.2" y="34.7" font-size="14" textLength="36.2" lengthAdjust="spacingAndGlyphs">Initial</text>
<text x="46.8" y="34.7" font-size="14" textLength="28.5" lengthAdjust="spacingAndGlyphs">time</text>
<text x="84.0" y="34.7" font-size="14" textLength="30.3" lengthAdjust="spacingAndGlyphs">Sun,</text>
<text x="119.0" y="34.7" font-size="14" textLength="81.7" lengthAdjust="spacingAndGlyphs">07/09/2025</text>
<text x="209.4" y="34.7" font-size="14" textLength="40.2" lengthAdjust="spacingAndGlyphs">03:00</text>
<text x="254.0" y="34.7" font-size="14" textLength="27.6" lengthAdjust="spacingAndGlyphs">UTC</text>
<text x="8.2" y="47.6" font-size="14" textLength="60.2" lengthAdjust="spacingAndGlyphs">Forecast</text>
<text x="74.1" y="47.6" font-size="14" textLength="11.8" lengthAdjust="spacingAndGlyphs">+</text>
<text x="95.2" y="47.6" font-size="14" textLength="19.1" lengthAdjust="spacingAndGlyphs">21</text>
<text x="117.7" y="47.6" font-size="14" textLength="8.2" lengthAdjust="spacingAndGlyphs">h</text>
<text x="134.6" y="47.6" font-size="14" textLength="32.8" lengthAdjust="spacingAndGlyphs">(000</text>
<text x="171.5" y="47.6" font-size="14" textLength="8.6" lengthAdjust="spacingAndGlyphs">d</text>
<text x="184.1" y="47.6" font-size="14" textLength="19.1" lengthAdjust="spacingAndGlyphs">21</text>
<text x="206.7" y="47.6" font-size="14" textLength="12.9" lengthAdjust="spacingAndGlyphs">h)</text>
<text x="227.7" y="47.6" font-size="14" textLength="28.2" lengthAdjust="spacingAndGlyphs">valid</text>
<text x="262.0" y="47.6" font-size="14" textLength="33.9" lengthAdjust="spacingAndGlyphs">Mon,</text>
<text x="300.4" y="47.6" font-size="14" textLength="81.2" lengthAdjust="spacingAndGlyphs">08/09/2025</text>
<text x="386.1" y="47.6" font-size="14" textLength="40.8" lengthAdjust="spacingAndGlyphs">00:00</text>
<text x="431.0" y="47.6" font-size="14" textLength="27.5" lengthAdjust="spacingAndGlyphs">UTC</text>
<text x="8.1" y="703.7" font-size="14" textLength="49.7" lengthAdjust="spacingAndGlyphs">Moloch</text>
<text x="61.9" y="703.7" font-size="14" textLength="45.8" lengthAdjust="spacingAndGlyphs">Model,</text>
<text x="112.0" y="703.7" font-size="14" textLength="68.6" lengthAdjust="spacingAndGlyphs">CNR-ISAC,</text>
<text x="185.3" y="703.7" font-size="14" textLength="25.8" lengthAdjust="spacingAndGlyphs">Italy</text>
</g>
</svg>
</body></html>
